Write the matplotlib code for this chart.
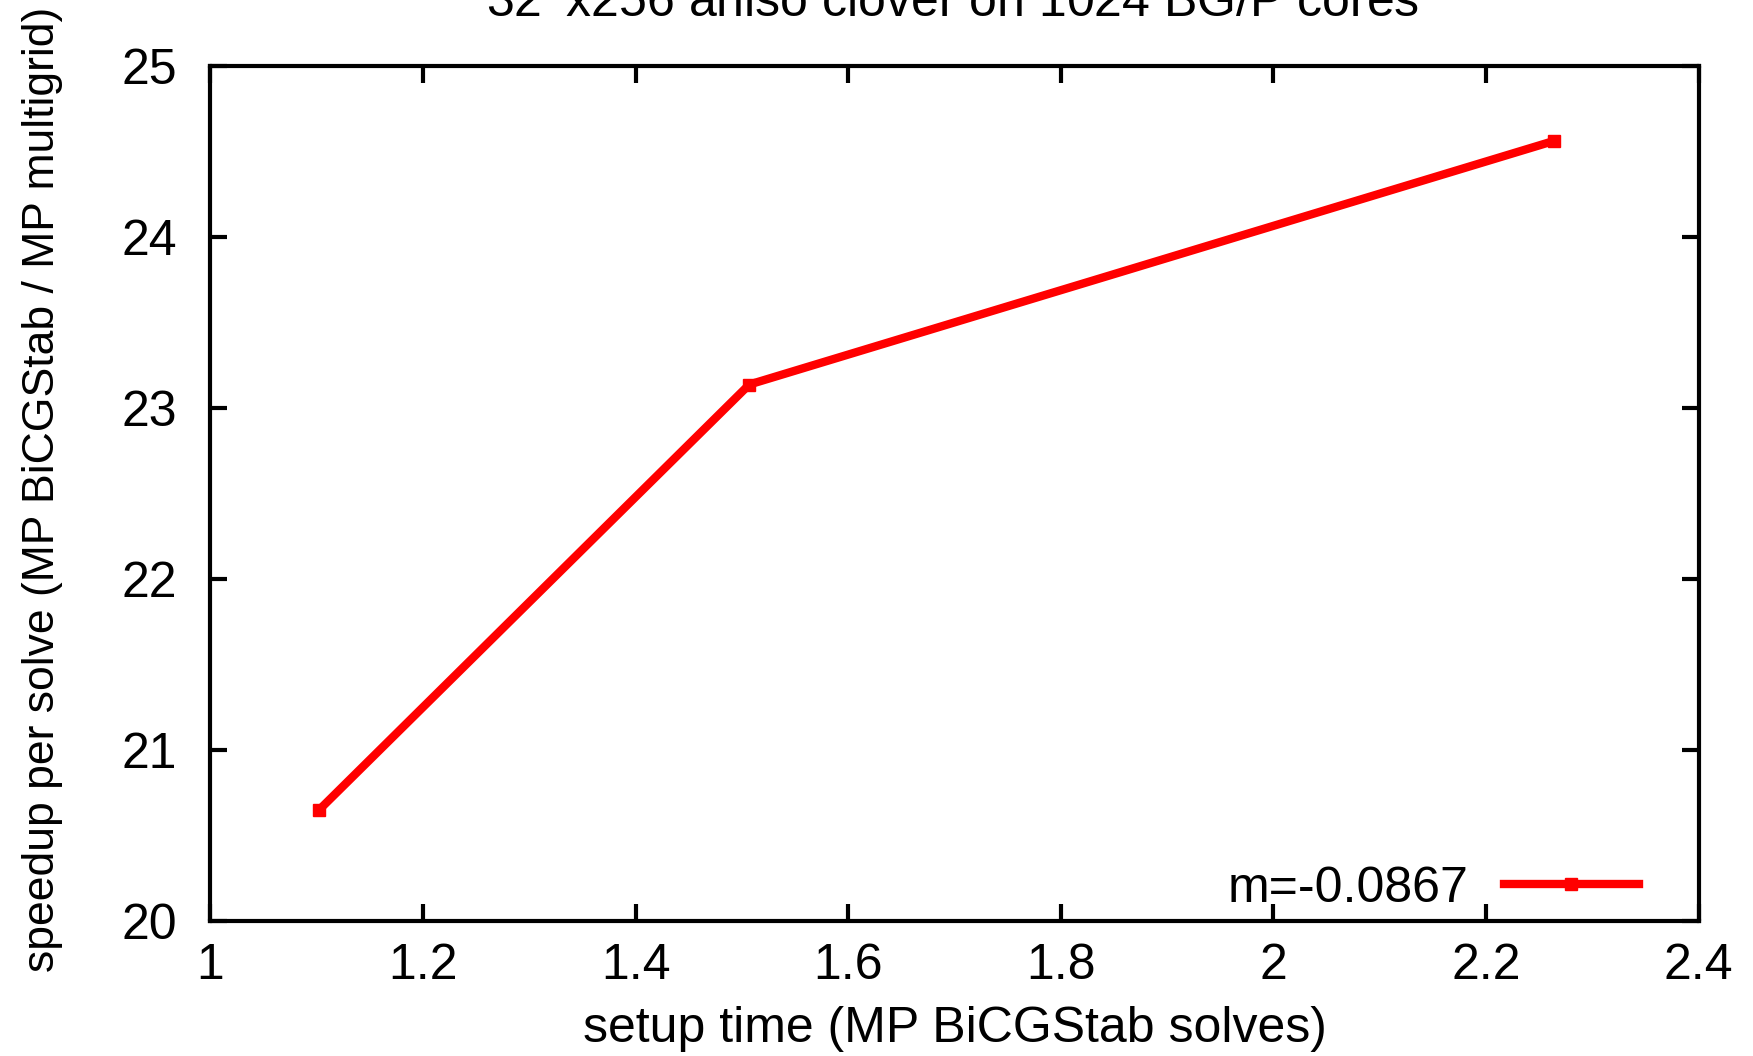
import matplotlib.pyplot as plt

plt.rcParams.update({
    "font.family": ["Liberation Sans", "DejaVu Sans"],
    "font.size": 36,
})

# setup time vs speedup per solve
setup_time = [1.102, 1.507, 2.264]
speedup = [20.647, 23.137, 24.562]
legend_label = "m=-0.0867"

fig = plt.figure(figsize=(17.53, 10.56), dpi=100)
ax = fig.add_axes([0.120, 0.128, 0.849, 0.8095])

ax.plot(setup_time, speedup, color="red", lw=6, marker="s", ms=8.5,
        label=legend_label)

ax.set_xlim(1, 2.4)
ax.set_ylim(20, 25)
ax.set_xticks([1, 1.2, 1.4, 1.6, 1.8, 2, 2.2, 2.4])
ax.set_xticklabels(["1", "1.2", "1.4", "1.6", "1.8", "2", "2.2", "2.4"])
ax.set_yticks([20, 21, 22, 23, 24, 25])

for s in ax.spines.values():
    s.set_linewidth(3)
ax.tick_params(direction="in", length=12, width=3, top=True, right=True,
               labelsize=36)
ax.tick_params(axis="x", pad=16)
ax.tick_params(axis="y", pad=24)

ax.set_xlabel("setup time (MP BiCGStab solves)", fontsize=36)
ax.xaxis.set_label_coords(0.5, -0.0994)
ax.set_ylabel("speedup per solve (MP BiCGStab / MP multigrid)", fontsize=32)
ax.yaxis.set_label_coords(-0.099, 0.505)

fig.text(0.5437, 0.984, "32$^3$x256 aniso clover on 1024 BG/P cores",
         ha="center", va="baseline", fontsize=36)

leg = ax.legend(loc="lower right", bbox_to_anchor=(0.9597, 0.0105),
                frameon=False, markerfirst=False, handlelength=2.7,
                fontsize=36, borderaxespad=0, borderpad=0,
                handletextpad=0.7)

fig.savefig("out.png", dpi=100)
